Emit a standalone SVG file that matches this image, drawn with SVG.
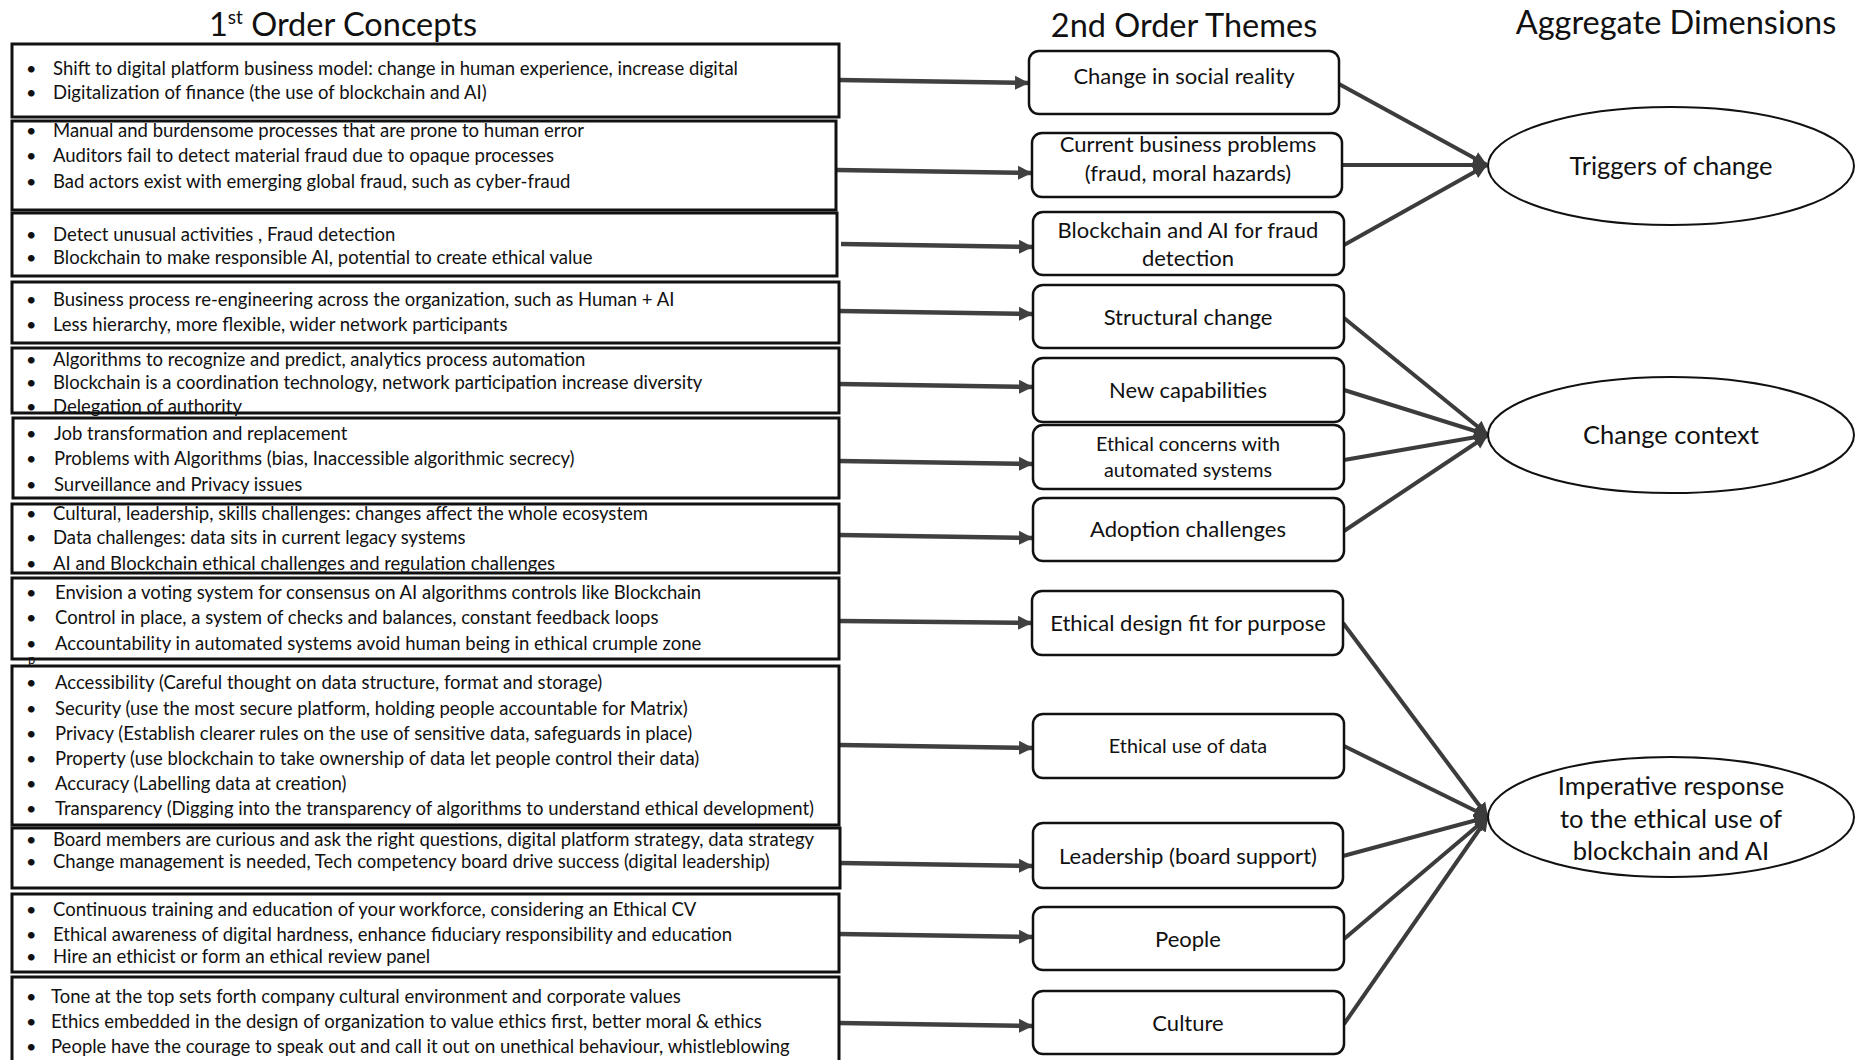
<svg xmlns="http://www.w3.org/2000/svg" width="1856" height="1060" viewBox="0 0 1856 1060">
  <defs>
    <style>
      text { font-family: Lato, "Liberation Sans", sans-serif; fill: #111; }
      .title { font-size: 32.5px; }
      .concept { fill: #fff; stroke: #111; stroke-width: 3; }
      .item { font-size: 18.5px; }
      .dot { font-size: 18px; }
      .theme { fill: #fff; stroke: #111; stroke-width: 2.5; }
      .tlabel { font-size: 22px; text-anchor: middle; }
      .tsmall { font-size: 19.8px; text-anchor: middle; }
      .dim { fill: #fff; stroke: #111; stroke-width: 2; }
      .dlabel { font-size: 25.5px; text-anchor: middle; }
      .feed { stroke: #404040; stroke-width: 4.5; fill: none; marker-end: url(#head); }
      .link { stroke: #3c3c3c; stroke-width: 4; fill: none; marker-end: url(#head2); }
    </style>
    <marker id="head" markerUnits="userSpaceOnUse" markerWidth="14" markerHeight="16" refX="14" refY="8" orient="auto">
      <path d="M0,1 L14,8 L0,15 z" fill="#404040"/>
    </marker>
    <marker id="head2" markerUnits="userSpaceOnUse" markerWidth="14" markerHeight="16" refX="14" refY="8" orient="auto">
      <path d="M0,1 L14,8 L0,15 z" fill="#3c3c3c"/>
    </marker>
  </defs>

  <rect width="1856" height="1060" fill="#fff"/>

  <!-- column headings -->
  <g id="headings">
    <text class="title" x="209" y="36">1<tspan font-size="19" dy="-12">st</tspan><tspan dy="12"> Order Concepts</tspan></text>
    <text class="title" x="1184" y="37" text-anchor="middle">2nd Order Themes</text>
    <text class="title" x="1676" y="34" text-anchor="middle">Aggregate Dimensions</text>
  </g>

  <!-- connectors -->
  <g id="connectors">
    <line class="feed" x1="839" y1="80" x2="1029" y2="83"/>
    <line class="feed" x1="836" y1="170" x2="1032" y2="173"/>
    <line class="feed" x1="841" y1="244" x2="1033" y2="247"/>
    <line class="feed" x1="839" y1="311" x2="1033" y2="314"/>
    <line class="feed" x1="839" y1="384" x2="1033" y2="387"/>
    <line class="feed" x1="839" y1="461" x2="1033" y2="464"/>
    <line class="feed" x1="839" y1="535" x2="1033" y2="538"/>
    <line class="feed" x1="840" y1="621" x2="1032" y2="623"/>
    <line class="feed" x1="840" y1="745" x2="1033" y2="748"/>
    <line class="feed" x1="840" y1="863" x2="1033" y2="866"/>
    <line class="feed" x1="839" y1="934" x2="1033" y2="937"/>
    <line class="feed" x1="839" y1="1023" x2="1033" y2="1026"/>

    <line class="link" x1="1339" y1="84" x2="1487" y2="165"/>
    <line class="link" x1="1342" y1="165" x2="1487" y2="165"/>
    <line class="link" x1="1344" y1="245" x2="1487" y2="165"/>

    <line class="link" x1="1344" y1="318" x2="1488" y2="435"/>
    <line class="link" x1="1344" y1="390" x2="1488" y2="435"/>
    <line class="link" x1="1344" y1="460" x2="1488" y2="435"/>
    <line class="link" x1="1344" y1="531" x2="1488" y2="435"/>

    <line class="link" x1="1343" y1="623" x2="1488" y2="817" stroke-width="3.5"/>
    <line class="link" x1="1344" y1="746" x2="1488" y2="817"/>
    <line class="link" x1="1343" y1="856" x2="1488" y2="817"/>
    <line class="link" x1="1344" y1="939" x2="1488" y2="817"/>
    <line class="link" x1="1344" y1="1024" x2="1488" y2="817" stroke-width="3.5"/>
  </g>

  <!-- 1st order concepts -->
  <g id="concept-1">
    <rect class="concept" x="12" y="44" width="827" height="73"/>
    <text class="dot" x="26" y="75">•</text><text class="item" x="53" y="75">Shift to digital platform business model: change in human experience, increase digital</text>
    <text class="dot" x="26" y="99">•</text><text class="item" x="53" y="99">Digitalization of finance (the use of blockchain and AI)</text>
  </g>
  <g id="concept-2">
    <rect class="concept" x="12" y="121" width="824" height="89"/>
    <text class="dot" x="26" y="137">•</text><text class="item" x="53" y="137">Manual and burdensome processes that are prone to human error</text>
    <text class="dot" x="26" y="162">•</text><text class="item" x="53" y="162">Auditors fail to detect material fraud due to opaque processes</text>
    <text class="dot" x="26" y="188">•</text><text class="item" x="53" y="188">Bad actors exist with emerging global fraud, such as cyber-fraud</text>
  </g>
  <g id="concept-3">
    <rect class="concept" x="12" y="213" width="825" height="63"/>
    <text class="dot" x="26" y="241">•</text><text class="item" x="53" y="241">Detect unusual activities , Fraud detection</text>
    <text class="dot" x="26" y="264">•</text><text class="item" x="53" y="264">Blockchain to make responsible AI, potential to create ethical value</text>
  </g>
  <g id="concept-4">
    <rect class="concept" x="12" y="282" width="827" height="61"/>
    <text class="dot" x="26" y="306">•</text><text class="item" x="53" y="306">Business process re-engineering across the organization, such as Human + AI</text>
    <text class="dot" x="26" y="331">•</text><text class="item" x="53" y="331">Less hierarchy, more flexible, wider network participants</text>
  </g>
  <g id="concept-5">
    <rect class="concept" x="12" y="348" width="827" height="65"/>
    <text class="dot" x="26" y="366">•</text><text class="item" x="53" y="366">Algorithms to recognize and predict, analytics process automation</text>
    <text class="dot" x="26" y="389">•</text><text class="item" x="53" y="389">Blockchain is a coordination technology, network participation increase diversity</text>
    <text class="dot" x="26" y="413">•</text><text class="item" x="53" y="413">Delegation of authority</text>
  </g>
  <g id="concept-6">
    <rect class="concept" x="13" y="418" width="826" height="80"/>
    <text class="dot" x="26" y="440">•</text><text class="item" x="54" y="440">Job transformation and replacement</text>
    <text class="dot" x="26" y="465">•</text><text class="item" x="54" y="465">Problems with Algorithms (bias, Inaccessible algorithmic secrecy)</text>
    <text class="dot" x="26" y="491">•</text><text class="item" x="54" y="491">Surveillance and Privacy issues</text>
  </g>
  <g id="concept-7">
    <rect class="concept" x="12" y="504" width="827" height="69"/>
    <text class="dot" x="26" y="520">•</text><text class="item" x="53" y="520">Cultural, leadership, skills challenges: changes affect the whole ecosystem</text>
    <text class="dot" x="26" y="544">•</text><text class="item" x="53" y="544">Data challenges: data sits in current legacy systems</text>
    <text class="dot" x="26" y="570">•</text><text class="item" x="53" y="570">AI and Blockchain ethical challenges and regulation challenges</text>
  </g>
  <g id="concept-8">
    <rect class="concept" x="12" y="578" width="827" height="81"/>
    <text class="dot" x="26" y="599">•</text><text class="item" x="55" y="599">Envision a voting system for consensus on AI algorithms controls like Blockchain</text>
    <text class="dot" x="26" y="624">•</text><text class="item" x="55" y="624">Control in place, a system of checks and balances, constant feedback loops</text>
    <text class="dot" x="26" y="650">•</text><text class="item" x="55" y="650">Accountability in automated systems avoid human being in ethical crumple zone</text>
    <text x="28" y="664" font-size="13">p</text>
  </g>
  <g id="concept-9">
    <rect class="concept" x="12" y="666" width="827" height="159"/>
    <text class="dot" x="26" y="689">•</text><text class="item" x="55" y="689">Accessibility (Careful thought on data structure, format and storage)</text>
    <text class="dot" x="26" y="715">•</text><text class="item" x="55" y="715">Security (use the most secure platform, holding people accountable for Matrix)</text>
    <text class="dot" x="26" y="740">•</text><text class="item" x="55" y="740">Privacy (Establish clearer rules on the use of sensitive data, safeguards in place)</text>
    <text class="dot" x="26" y="765">•</text><text class="item" x="55" y="765">Property (use blockchain to take ownership of data let people control their data)</text>
    <text class="dot" x="26" y="790">•</text><text class="item" x="55" y="790">Accuracy (Labelling data at creation)</text>
    <text class="dot" x="26" y="815">•</text><text class="item" x="55" y="815">Transparency (Digging into the transparency of algorithms to understand ethical development)</text>
  </g>
  <g id="concept-10">
    <rect class="concept" x="12" y="828" width="828" height="60"/>
    <text class="dot" x="26" y="846">•</text><text class="item" x="53" y="846">Board members are curious and ask the right questions, digital platform strategy, data strategy</text>
    <text class="dot" x="26" y="868">•</text><text class="item" x="53" y="868">Change management is needed, Tech competency board drive success (digital leadership)</text>
  </g>
  <g id="concept-11">
    <rect class="concept" x="12" y="894" width="827" height="78"/>
    <text class="dot" x="26" y="916">•</text><text class="item" x="53" y="916">Continuous training and education of your workforce, considering an Ethical CV</text>
    <text class="dot" x="26" y="941">•</text><text class="item" x="53" y="941">Ethical awareness of digital hardness, enhance fiduciary responsibility and education</text>
    <text class="dot" x="26" y="963">•</text><text class="item" x="53" y="963">Hire an ethicist or form an ethical review panel</text>
  </g>
  <g id="concept-12">
    <rect class="concept" x="12" y="977" width="827" height="100"/>
    <text class="dot" x="26" y="1003">•</text><text class="item" x="51" y="1003">Tone at the top sets forth company cultural environment and corporate values</text>
    <text class="dot" x="26" y="1028">•</text><text class="item" x="51" y="1028">Ethics embedded in the design of organization to value ethics first, better moral &amp; ethics</text>
    <text class="dot" x="26" y="1053">•</text><text class="item" x="51" y="1053">People have the courage to speak out and call it out on unethical behaviour, whistleblowing</text>
  </g>

  <!-- 2nd order themes -->
  <g id="theme-1">
    <rect class="theme" x="1029" y="51" width="310" height="63" rx="10"/>
    <text class="tlabel" x="1184" y="84">Change in social reality</text>
  </g>
  <g id="theme-2">
    <rect class="theme" x="1032" y="133" width="310" height="64" rx="10"/>
    <text class="tlabel" x="1188" y="152">Current business problems</text>
    <text class="tlabel" x="1188" y="181">(fraud, moral hazards)</text>
  </g>
  <g id="theme-3">
    <rect class="theme" x="1033" y="212" width="311" height="63" rx="10"/>
    <text class="tlabel" x="1188" y="238">Blockchain and AI for fraud</text>
    <text class="tlabel" x="1188" y="266">detection</text>
  </g>
  <g id="theme-4">
    <rect class="theme" x="1033" y="285" width="311" height="63" rx="10"/>
    <text class="tlabel" x="1188" y="325">Structural change</text>
  </g>
  <g id="theme-5">
    <rect class="theme" x="1033" y="358" width="311" height="64" rx="10"/>
    <text class="tlabel" x="1188" y="398">New capabilities</text>
  </g>
  <g id="theme-6">
    <rect class="theme" x="1033" y="425" width="311" height="64" rx="10"/>
    <text class="tsmall" x="1188" y="451">Ethical concerns with</text>
    <text class="tsmall" x="1188" y="477">automated systems</text>
  </g>
  <g id="theme-7">
    <rect class="theme" x="1033" y="498" width="311" height="63" rx="10"/>
    <text class="tlabel" x="1188" y="537">Adoption challenges</text>
  </g>
  <g id="theme-8">
    <rect class="theme" x="1032" y="591" width="311" height="64" rx="10"/>
    <text class="tlabel" x="1188" y="631">Ethical design fit for purpose</text>
  </g>
  <g id="theme-9">
    <rect class="theme" x="1033" y="714" width="311" height="64" rx="10"/>
    <text class="tsmall" x="1188" y="753">Ethical use of data</text>
  </g>
  <g id="theme-10">
    <rect class="theme" x="1033" y="823" width="310" height="65" rx="10"/>
    <text class="tlabel" x="1188" y="864">Leadership (board support)</text>
  </g>
  <g id="theme-11">
    <rect class="theme" x="1033" y="907" width="311" height="63" rx="10"/>
    <text class="tlabel" x="1188" y="947">People</text>
  </g>
  <g id="theme-12">
    <rect class="theme" x="1033" y="991" width="311" height="63" rx="10"/>
    <text class="tlabel" x="1188" y="1031">Culture</text>
  </g>

  <!-- aggregate dimensions -->
  <g id="dim-triggers">
    <ellipse class="dim" cx="1671" cy="166" rx="183" ry="59"/>
    <text class="dlabel" x="1671" y="175">Triggers of change</text>
  </g>
  <g id="dim-context">
    <ellipse class="dim" cx="1671" cy="435" rx="183" ry="58"/>
    <text class="dlabel" x="1671" y="444">Change context</text>
  </g>
  <g id="dim-imperative">
    <ellipse class="dim" cx="1671" cy="817" rx="183" ry="60"/>
    <text class="dlabel" x="1671" y="795">Imperative response</text>
    <text class="dlabel" x="1671" y="828">to the ethical use of</text>
    <text class="dlabel" x="1671" y="860">blockchain and AI</text>
  </g>
</svg>
